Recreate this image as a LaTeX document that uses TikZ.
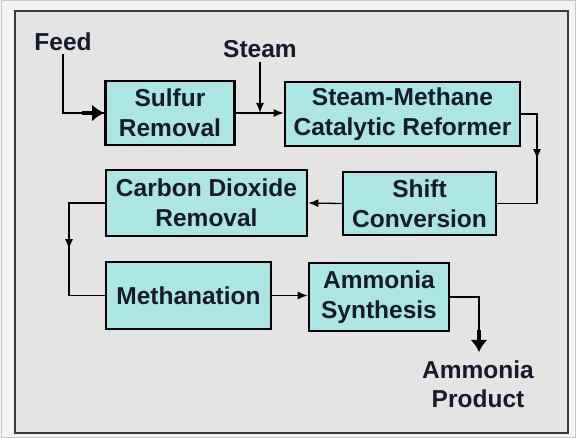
\documentclass[tikz,border=0pt]{standalone}
\usepackage{fontspec}
\setmainfont{Liberation Sans}
\usetikzlibrary{arrows.meta,decorations.markings}
\definecolor{boxfill}{HTML}{ABE6E4}
\definecolor{bg}{HTML}{E4E4E4}
\definecolor{txt}{HTML}{161B2B}
\definecolor{frame}{HTML}{3A3A3A}
\begin{document}
\begin{tikzpicture}[x=1pt,y=-1pt,
  proc/.style={draw=black,line width=2.6pt,fill=boxfill,text=txt,align=center,
    font=\fontsize{24.5}{30}\selectfont\bfseries,inner sep=0pt},
  lbl/.style={text=txt,align=center,font=\fontsize{24.5}{29}\selectfont\bfseries,inner sep=0pt},
  flow/.style={draw=black,line width=1.3pt,-{Latex[length=10pt,width=8pt]}},
  plain/.style={draw=black,line width=1.3pt},
  fat/.style={draw=black,line width=4.5pt,-{Latex[length=12pt,width=17pt]}},
  midarrow/.style={postaction={decorate},decoration={markings,
    mark=at position #1 with {\arrow{Latex[length=10pt,width=8pt]}}}}
]
\useasboundingbox (0,0) rectangle (576,438);
\fill[white!96!black] (0,0) rectangle (576,438);
\draw[gray!45,line width=1pt] (1,1) rectangle (575,437);
\draw[frame,fill=bg,line width=2.2pt] (15,11) rectangle (568,433);

\node[proc,minimum width=129pt,minimum height=64pt] (sulfur) at (170,113) {Sulfur\\Removal};
\node[proc,minimum width=235pt,minimum height=64pt] (smr) at (402.5,114) {Steam-Methane\\Catalytic Reformer};
\node[proc,minimum width=153pt,minimum height=63pt] (shift) at (419.5,203.5) {Shift\\Conversion};
\node[proc,minimum width=201pt,minimum height=66pt] (co2) at (206.5,203) {Carbon Dioxide\\Removal};
\node[proc,minimum width=165pt,minimum height=67pt] (meth) at (188.5,295.5) {Methanation};
\node[proc,minimum width=140pt,minimum height=68pt] (ams) at (379,297) {Ammonia\\Synthesis};

\node[lbl] (feed) at (63,42) {Feed};
\node[lbl] (steam) at (260,49) {Steam};
\node[lbl] (prod) at (478,384) {Ammonia\\Product};

\coordinate (smrturn) at (537,0);
\coordinate (co2turn) at (69,0);
\coordinate (prodturn) at (479,0);
\coordinate (prodtip) at (479,352);

% Feed
\draw[plain] ([yshift=-3pt]feed.south) |- (sulfur.west);
\draw[fat] ([xshift=-22pt]sulfur.west) -- (sulfur.west);
% Sulfur -> SMR
\draw[flow] (sulfur.east) -- (sulfur.east -| smr.west);
% Steam
\draw[flow] ([yshift=-4pt]steam.south) -- (steam.south |- sulfur.east);
% SMR -> Shift
\draw[plain,midarrow=0.42] (smr.east) -- (smr.east -| smrturn) -- (shift.east -| smrturn) -- (shift.east);
% Shift -> CO2
\draw[flow] (shift.west) -- (co2.east);
% CO2 -> Methanation
\draw[plain,midarrow=0.5] (co2.west) -- (co2.west -| co2turn) -- (meth.west -| co2turn) -- (meth.west);
% Methanation -> Ammonia synthesis
\draw[flow] (meth.east) -- (meth.east -| ams.west);
% Product
\draw[plain] (ams.east) -- (ams.east -| prodturn) -- ([yshift=20pt]prodtip);
\draw[fat] ([yshift=22pt]prodtip) -- (prodtip);
\end{tikzpicture}
\end{document}
